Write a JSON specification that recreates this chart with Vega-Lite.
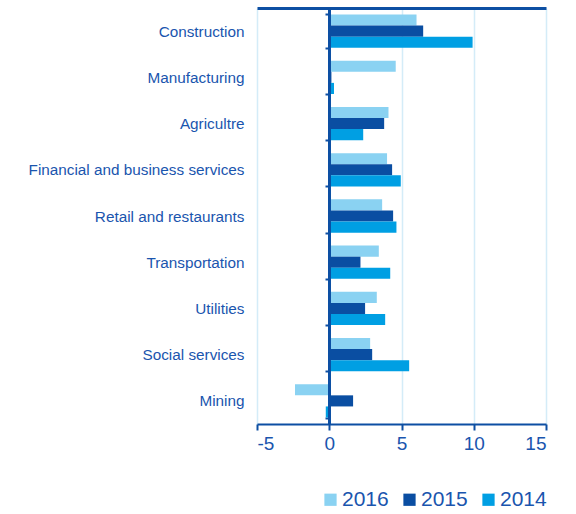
{
  "$schema": "https://vega.github.io/schema/vega-lite/v6.json",
  "width": 289,
  "height": 416,
  "autosize": {"type": "none"},
  "padding": {"left": 257, "top": 8, "right": 30, "bottom": 90},
  "background": "white",
  "config": {"view": {"stroke": null}, "font": "Liberation Sans"},
  "data": {"values": [
    {"sector": "Construction", "year": "2016", "value": 6.04},
    {"sector": "Construction", "year": "2015", "value": 6.5},
    {"sector": "Construction", "year": "2014", "value": 9.92},
    {"sector": "Manufacturing", "year": "2016", "value": 4.6},
    {"sector": "Manufacturing", "year": "2015", "value": 0.15},
    {"sector": "Manufacturing", "year": "2014", "value": 0.33},
    {"sector": "Agricultre", "year": "2016", "value": 4.1},
    {"sector": "Agricultre", "year": "2015", "value": 3.8},
    {"sector": "Agricultre", "year": "2014", "value": 2.35},
    {"sector": "Financial and business services", "year": "2016", "value": 4.0},
    {"sector": "Financial and business services", "year": "2015", "value": 4.35},
    {"sector": "Financial and business services", "year": "2014", "value": 4.95},
    {"sector": "Retail and restaurants", "year": "2016", "value": 3.66},
    {"sector": "Retail and restaurants", "year": "2015", "value": 4.42},
    {"sector": "Retail and restaurants", "year": "2014", "value": 4.65},
    {"sector": "Transportation", "year": "2016", "value": 3.43},
    {"sector": "Transportation", "year": "2015", "value": 2.16},
    {"sector": "Transportation", "year": "2014", "value": 4.22},
    {"sector": "Utilities", "year": "2016", "value": 3.29},
    {"sector": "Utilities", "year": "2015", "value": 2.48},
    {"sector": "Utilities", "year": "2014", "value": 3.87},
    {"sector": "Social services", "year": "2016", "value": 2.83},
    {"sector": "Social services", "year": "2015", "value": 2.97},
    {"sector": "Social services", "year": "2014", "value": 5.53},
    {"sector": "Mining", "year": "2016", "value": -2.37},
    {"sector": "Mining", "year": "2015", "value": 1.65},
    {"sector": "Mining", "year": "2014", "value": -0.24}
  ]},
  "layer": [
    {
      "mark": {"type": "bar"},
      "encoding": {
        "y": {
          "field": "sector", "type": "nominal",
          "sort": ["Construction", "Manufacturing", "Agricultre", "Financial and business services", "Retail and restaurants", "Transportation", "Utilities", "Social services", "Mining"],
          "scale": {"paddingInner": 0.28, "paddingOuter": 0.14},
          "axis": {
            "title": null, "offset": -72, "domainColor": "#0d4fa3", "domainWidth": 2,
            "ticks": true, "tickBand": "extent", "tickColor": "#0d4fa3", "tickWidth": 2, "tickSize": 4,
            "labelPadding": 81, "labelFontSize": 15.3, "labelColor": "#1a55ae", "grid": false, "labelLimit": 400
          }
        },
        "yOffset": {"field": "year", "type": "nominal", "sort": ["2016", "2015", "2014"], "scale": {"paddingInner": 0}},
        "x": {
          "field": "value", "type": "quantitative",
          "scale": {"domain": [-5, 15], "nice": false},
          "axis": {
            "title": null, "values": [-5, 0, 5, 10, 15], "labelExpr": "'' + datum.value",
            "domainColor": "#0d4fa3", "domainWidth": 2,
            "tickColor": "#0d4fa3", "tickWidth": 2, "tickSize": 6,
            "labelFontSize": 19, "labelColor": "#1a55ae", "labelPadding": 4,
            "grid": true, "gridColor": "#d4ecf8", "gridWidth": 1.5
          }
        },
        "color": {
          "field": "year", "type": "nominal",
          "scale": {"domain": ["2016", "2015", "2014"], "range": ["#8ad2f2", "#0a4ea2", "#009fe3"]},
          "legend": {
            "title": null, "orient": "none", "direction": "horizontal", "legendX": 63, "legendY": 481,
            "symbolType": "square", "symbolSize": 150, "symbolStrokeWidth": 0,
            "labelFontSize": 21, "labelColor": "#1a55ae", "columnPadding": 10, "labelOffset": 1
          }
        }
      }
    },
    {
      "mark": {"type": "rule", "color": "#0d4fa3", "strokeWidth": 2},
      "encoding": {
        "x": {
          "datum": 0, "type": "quantitative",
          "axis": {"orient": "top", "title": null, "labels": false, "ticks": false, "grid": false, "domainColor": "#0d4fa3", "domainWidth": 3}
        }
      }
    }
  ],
  "resolve": {"axis": {"x": "independent"}}
}
